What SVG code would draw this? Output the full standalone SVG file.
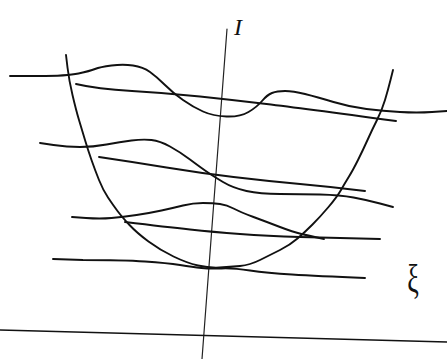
<svg xmlns="http://www.w3.org/2000/svg" width="447" height="359" viewBox="0 0 447 359">
<style>
.ln{fill:none;stroke:#111;stroke-width:1.9;stroke-linecap:round;stroke-linejoin:round}
.ax{fill:none;stroke:#222;stroke-width:1.2;stroke-linecap:round}
.lbl{font-family:"Liberation Serif","DejaVu Serif",serif;fill:#111}
</style>
<rect width="447" height="359" fill="#ffffff"/>
<g id="axes">
<path class="ax" d="M227,29 L214,200 L202,359"/>
<path class="ln" d="M0,330 L447,342" style="stroke-width:1.6"/>
</g>
<g id="well">
<path class="ln" d="M66,55 L67.5,67.5 Q69,80 72.5,95 Q76,110 79,120 Q82,130 85,140 Q88,150 91.5,160 Q95,170 99,180 Q103,190 108,197.5 Q113,205 117.5,211 Q122,217 129.5,225 Q137,233 148.5,241.5 Q160,250 173.5,256.5 Q187,263 198,265.5 Q209,268 219.5,267.5 Q230,267 240,266 Q250,265 260,260 Q270,255 280,250 Q290,245 297.5,238.5 Q305,232 312.5,224.5 Q320,217 328.5,207 Q337,197 341,190 Q345,183 349,176.5 Q353,170 358,160 Q363,150 367.5,140 Q372,130 377,120 Q382,110 385,100 Q388,90 390.5,80 L393,70"/>
</g>
<g id="levels">
<path class="ln" d="M10,76 L38.5,76 Q67,76 78.5,73.5 Q90,71 95,69 Q100,67 111.5,65.5 Q123,64 133,65.5 Q143,67 150,72 Q157,77 165,85 Q173,93 183,100 Q193,107 203,111.5 Q213,116 226.5,116.5 Q240,117 248.5,112 Q257,107 262,101 Q267,95 272,93 Q277,91 285,91 Q293,91 305,94 Q317,97 333.5,102 Q350,107 366.5,109 Q383,111 400,112 Q417,113 432,112 L447,111"/>
<path class="ln" d="M76,84 Q97,89 132,91 Q167,93 200,96.5 Q233,100 266.5,104 Q300,108 396,121"/>
<path class="ln" d="M40,143 L53.5,145 Q67,147 80,147 Q93,147 106.5,144.5 Q120,142 131.5,140.5 Q143,139 151.5,140 Q160,141 170,146.5 Q180,152 190,159.5 Q200,167 206.5,171.5 Q213,176 223,182 Q233,188 246.5,191 Q260,194 280,194 Q300,194 320,194.5 Q340,195 353.5,197.5 Q367,200 380,203.5 L393,207"/>
<path class="ln" d="M99,157 Q133,162 166.5,167.5 Q200,173 233.5,177 Q267,181 300,184 Q333,187 365,191"/>
<path class="ln" d="M72,217 L86,218 Q100,219 111.5,218 Q123,217 136.5,215 Q150,213 161.5,210.5 Q173,208 183,205.5 Q193,203 203,203 Q213,203 220,204 Q227,205 233.5,208.5 Q240,212 253.5,217 Q267,222 280,227 Q293,232 301.5,234 Q310,236 317,237.5 L324,239"/>
<path class="ln" d="M125,222 Q167,227 190,229.5 Q213,232 240,234 Q267,236 300,237 L380,239"/>
<path class="ln" d="M53,259 L83,260 Q123,260 145,261.5 Q167,263 180,265 Q193,267 201.5,268 Q210,269 221.5,268.5 Q233,268 250,270.5 Q267,273 292,274.5 Q317,276 365,278"/>
</g>
<g id="labels">
<text class="lbl" x="238" y="35" font-size="24" font-style="italic" text-anchor="middle">I</text>
<text class="lbl" transform="translate(413,292) scale(1,1.5)" x="0" y="0" font-size="26" text-anchor="middle">ξ</text>
</g>
</svg>
